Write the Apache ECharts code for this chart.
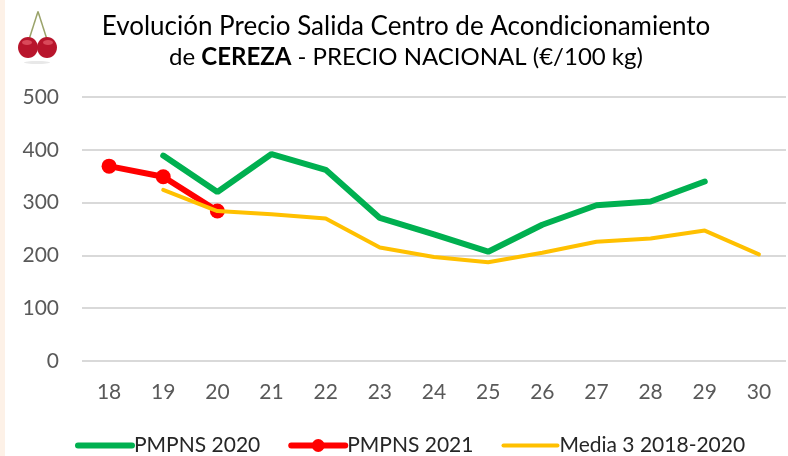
<!DOCTYPE html>
<html lang="es">

<head>
  <meta charset="UTF-8">
  <title>Cereza</title>
  <style>
    html, body { margin: 0; padding: 0; background: #fff; }
    #chart { width: 788px; height: 456px; }
  </style>
</head>

<body>
  <div id="chart"></div>
  <script src="https://cdn.jsdelivr.net/npm/echarts@6/dist/echarts.min.js"></script>
  <script>
    var weeks = ['18', '19', '20', '21', '22', '23', '24', '25', '26', '27', '28', '29', '30']
    var pmpns2020 = [null, 389, 320, 392, 362, 271, 240, 207, 258, 295, 302, 340, null]
    var pmpns2021 = [369, 349, 284, null, null, null, null, null, null, null, null, null, null]
    var media3 = [null, 324, 284, 278, 270, 215, 197, 187, 205, 226, 232, 247, 202]
    var yTicks = { min: 0, max: 500, interval: 100 }

    var fontName = 'Lato'
    var myChart = echarts.init(document.getElementById('chart'))

    var option = {
      animation: false,
      backgroundColor: '#fff',
      textStyle: { fontFamily: fontName },
      title: {
        left: 401,
        top: 6,
        textAlign: 'center',
        text: 'Evolución Precio Salida Centro de Acondicionamiento\n{n|de }{b|CEREZA}{n| - PRECIO NACIONAL (€/100 kg)}',
        textStyle: {
          fontFamily: fontName,
          fontSize: 26,
          fontWeight: 'normal',
          color: '#000',
          lineHeight: 31,
          rich: {
            n: { fontFamily: fontName, fontSize: 24, color: '#000', lineHeight: 31 },
            b: { fontFamily: fontName, fontSize: 24, fontWeight: 'bold', color: '#000', lineHeight: 31 }
          }
        }
      },
      grid: { left: 82, right: 2, top: 97, bottom: 95 },
      xAxis: {
        type: 'category',
        data: weeks,
        axisLine: { show: false },
        axisTick: { show: false },
        axisLabel: { color: '#595959', fontSize: 21, margin: 21 }
      },
      yAxis: {
        type: 'value',
        min: yTicks.min,
        max: yTicks.max,
        interval: yTicks.interval,
        axisLine: { show: false },
        axisTick: { show: false },
        axisLabel: { color: '#595959', fontSize: 21, margin: 23 },
        splitLine: { lineStyle: { color: '#d9d9d9', width: 2 } }
      },
      legend: {
        left: 70,
        top: 430,
        itemGap: 28,
        itemWidth: 54,
        itemHeight: 16,
        textStyle: { color: '#262626', fontSize: 21, padding: [0, 0, 0, -3] },
        data: [
          { name: 'PMPNS 2020', itemStyle: { opacity: 0 }, lineStyle: { width: 6 } },
          { name: 'PMPNS 2021', lineStyle: { width: 6 } },
          { name: 'Media 3 2018-2020', itemStyle: { opacity: 0 }, lineStyle: { width: 4 } }
        ]
      },
      series: [
        {
          name: 'PMPNS 2020',
          type: 'line',
          data: pmpns2020,
          symbol: 'none',
          lineStyle: { color: '#00b050', width: 6, cap: 'round' },
          itemStyle: { color: '#00b050' },
          z: 2
        },
        {
          name: 'PMPNS 2021',
          type: 'line',
          data: pmpns2021,
          symbol: 'circle',
          symbolSize: 15,
          lineStyle: { color: '#ff0000', width: 6, cap: 'round' },
          itemStyle: { color: '#ff0000' },
          z: 3
        },
        {
          name: 'Media 3 2018-2020',
          type: 'line',
          data: media3,
          symbol: 'none',
          lineStyle: { color: '#ffc000', width: 4, cap: 'round' },
          itemStyle: { color: '#ffc000' },
          z: 4
        }
      ],
      graphic: [
        // franja izquierda
        { type: 'rect', left: 0, top: 0, shape: { width: 5, height: 456 }, style: { fill: '#fdf1e7' }, silent: true },
        // cereza
        {
          type: 'group',
          left: 18,
          top: 9,
          silent: true,
          children: [
            { type: 'line', shape: { x1: 21, y1: 0, x2: 12, y2: 28 }, style: { stroke: '#9aa36a', lineWidth: 1.5 } },
            { type: 'line', shape: { x1: 21, y1: 0, x2: 30, y2: 28 }, style: { stroke: '#9aa36a', lineWidth: 1.5 } },
            { type: 'ellipse', shape: { cx: 20, cy: 51, rx: 13, ry: 1.5 }, style: { fill: '#e8e8e8' } },
            { type: 'ellipse', shape: { cx: 11, cy: 36, rx: 10, ry: 10.5 }, style: { fill: '#b8152c' } },
            { type: 'ellipse', shape: { cx: 30, cy: 36, rx: 10, ry: 10.5 }, style: { fill: '#b8152c' } },
            { type: 'ellipse', shape: { cx: 10, cy: 31, rx: 5, ry: 2.5 }, style: { fill: '#d9495a' } },
            { type: 'ellipse', shape: { cx: 31, cy: 31, rx: 5, ry: 2.5 }, style: { fill: '#d9495a' } }
          ]
        }
      ]
    }
    myChart.setOption(option)
  </script>
</body>

</html>
